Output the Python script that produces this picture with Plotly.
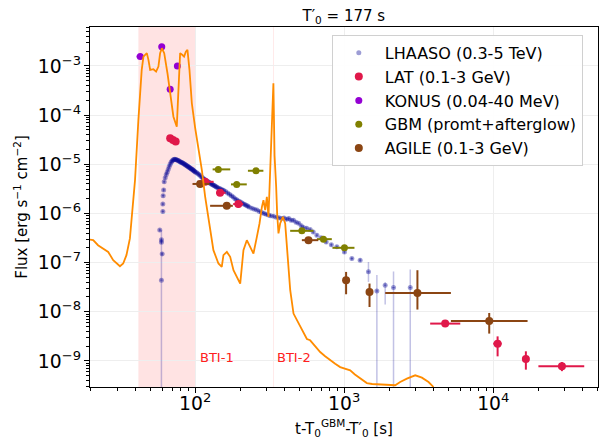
import plotly.graph_objects as go

# ---------------- data ----------------
# LHAASO (0.3-5 TeV)
lh_t = [57.9, 59.4, 59.4, 60.1, 60.7, 60.7, 61.0, 61.5, 62, 63, 64, 65, 66, 67, 68, 69, 70, 71, 72, 73,
        74, 75, 76, 77, 78, 79, 80, 81, 82, 83, 84, 85, 86, 87, 88, 89, 90, 91, 92, 93,
        94, 95, 96, 97, 98, 99, 100, 102, 104, 106, 108, 110, 112, 114, 116, 118, 120, 122, 124, 126,
        128, 130, 132, 134, 136, 138, 140, 143, 146, 149, 152, 155, 160, 165, 170, 175, 180, 185, 190, 195,
        200, 205, 210, 215, 220, 225, 230, 240, 250, 260, 270, 280, 290, 300, 310, 320, 335, 350, 365, 380,
        395, 410, 425, 440, 457, 475, 495, 515, 533, 560, 591, 620, 656, 700, 757, 820, 893, 1004, 1126, 1280]
lh_f = [4.6e-7, 2.9e-7, 2.6e-7, 1.5e-7, 1.1e-6, 1.55e-6, 2.3e-6, 3.0e-6, 4.4e-6, 5.3e-6, 6.2e-6, 7.0e-6, 7.9e-6, 9.0e-6, 1.0e-5, 1.1e-5, 1.17e-5, 1.22e-5, 1.25e-5, 1.26e-5,
        1.25e-5, 1.23e-5, 1.21e-5, 1.19e-5, 1.16e-5, 1.13e-5, 1.11e-5, 1.09e-5, 1.07e-5, 1.05e-5, 1.02e-5, 1.0e-5, 9.8e-6, 9.5e-6, 9.3e-6, 9.1e-6, 8.9e-6, 8.7e-6, 8.5e-6, 8.3e-6,
        8.1e-6, 7.9e-6, 7.8e-6, 7.6e-6, 7.4e-6, 7.2e-6, 7.0e-6, 6.8e-6, 6.5e-6, 6.2e-6, 5.9e-6, 5.6e-6, 5.3e-6, 5.1e-6, 4.9e-6, 4.7e-6, 4.5e-6, 4.4e-6, 4.3e-6, 4.1e-6,
        4.0e-6, 3.9e-6, 3.8e-6, 3.7e-6, 3.6e-6, 3.5e-6, 3.4e-6, 3.3e-6, 3.2e-6, 3.1e-6, 3.0e-6, 2.95e-6, 2.8e-6, 2.6e-6, 2.45e-6, 2.3e-6, 2.15e-6, 2.0e-6, 1.9e-6, 1.8e-6,
        1.72e-6, 1.65e-6, 1.58e-6, 1.52e-6, 1.46e-6, 1.41e-6, 1.36e-6, 1.28e-6, 1.22e-6, 1.17e-6, 1.1e-6, 1.05e-6, 1.0e-6, 9.6e-7, 9.3e-7, 9.0e-7, 8.8e-7, 8.4e-7, 8.2e-7, 7.9e-7,
        8.1e-7, 7.6e-7, 7.9e-7, 7.3e-7, 7.3e-7, 6.6e-7, 6.3e-7, 5.6e-7, 5.2e-7, 5.0e-7, 4.7e-7, 4.2e-7, 3.6e-7, 3.2e-7, 2.64e-7, 2.3e-7, 2.09e-7, 1.65e-7, 1.21e-7, 1.12e-7]
# LHAASO points with large error bars (lower bound 1e-12 = unbounded)
lh2_t = [59.4, 1455, 1657, 1884, 2143, 2775]
lh2_f = [4.4e-8, 6.5e-8, 2.65e-8, 3.47e-8, 3.1e-8, 3.1e-8]
lh2_hi = [4.6e-7, 1.03e-7, 5.6e-8, 4.0e-8, 6.6e-8, 7.24e-8]
lh2_lo = [1e-12, 4.05e-8, 1e-12, 1.4e-8, 1e-12, 1e-12]

# LAT (0.1-3 GeV)
lat_t = [68, 71, 74, 116.7, 147, 195, 4760, 10700, 16560, 28900]
lat_f = [3.4e-5, 3.1e-5, 2.9e-5, 4.4e-6, 2.63e-6, 1.55e-6, 5.75e-9, 2.25e-9, 1.09e-9, 7.76e-10]
lat_t_lo = [67, 70, 73, 103, 138, 180, 3775, 10000, 15700, 20100]
lat_t_hi = [69, 72, 75, 133, 160, 210, 6010, 11400, 17400, 40800]
lat_f_lo = [3.2e-5, 2.9e-5, 2.7e-5, 3.9e-6, 2.3e-6, 1.3e-6, 5.2e-9, 1.24e-9, 6.65e-10, 6.2e-10]
lat_f_hi = [3.6e-5, 3.3e-5, 3.1e-5, 5.0e-6, 3.0e-6, 1.8e-6, 6.3e-9, 3.16e-9, 1.57e-9, 9.5e-10]

# KONUS (0.04-40 MeV)
konus_t = [42.8, 59.7, 68, 76]
konus_f = [1.55e-3, 2.47e-3, 3.35e-4, 1.0e-3]
konus_t_lo = [40.5, 57, 66, 74]
konus_t_hi = [45, 62.5, 70, 78]
konus_f_lo = [1.42e-3, 2.27e-3, 3.08e-4, 0.92e-3]
konus_f_hi = [1.68e-3, 2.67e-3, 3.62e-4, 1.08e-3]

# GBM (promt+afterglow)
gbm_t = [143, 190, 256, 520, 726, 1004]
gbm_f = [7.87e-6, 3.9e-6, 7.38e-6, 4.43e-7, 3.0e-7, 2.0e-7]
gbm_t_lo = [131, 174, 226, 434, 656, 834]
gbm_t_hi = [172, 222, 287, 622, 826, 1172]
gbm_f_lo = [7.5e-6, 3.7e-6, 7.0e-6, 4.2e-7, 2.85e-7, 1.9e-7]
gbm_f_hi = [8.3e-6, 4.1e-6, 7.8e-6, 4.65e-7, 3.15e-7, 2.1e-7]

# AGILE (0.1-3 GeV)
agile_t = [108, 163, 576, 1030, 1479, 3100, 9400]
agile_f = [3.98e-6, 1.43e-6, 2.86e-7, 4.38e-8, 2.53e-8, 2.42e-8, 6.5e-9]
agile_t_lo = [96, 126, 520, 990, 1440, 1885, 5200]
agile_t_hi = [125, 179, 670, 1070, 1520, 5200, 17000]
agile_f_lo = [3.7e-6, 1.33e-6, 2.65e-7, 2.27e-8, 1.25e-8, 1.11e-8, 3.6e-9]
agile_f_hi = [4.3e-6, 1.55e-6, 3.1e-7, 6.47e-8, 3.75e-8, 7.0e-8, 9.46e-9]

# GBM light curve (orange)
lc_t = [19.7, 20.7, 22.3, 24.1, 26.1, 28.2, 31.3, 32.9, 34.6, 36.5, 37.9, 39.5, 41.6, 43.8, 45.0, 47.4,
        48.6, 49.9, 52.5, 54.7, 56.7, 58.2, 59.8, 62.0, 65.2, 68.0, 71.5, 75.3, 77.2, 79.3, 82.2, 84.3,
        86.6, 88.8, 91.6, 95.0, 100, 105, 111, 116.7, 122.8, 132.6, 143.3, 150.9, 154.8, 163.2, 171.8, 180.8,
        200.6, 210.9, 222.2, 233.9, 246.2, 259.5, 270.3, 280.5, 287.3, 295, 302.8, 310.5, 318.5, 327.1, 335, 341,
        344.5, 349.6, 355, 362.4, 371.9, 387.9, 401.9, 412.3, 434.4, 457.1, 506.8, 562, 591, 640, 690, 745,
        805, 870, 940, 1020, 1097, 1180, 1280, 1419, 1540, 1657, 1800, 1934, 2060, 2200, 2375, 2634,
        2997, 3322, 3680, 3937, 4100]
lc_f = [2.95e-7, 2.86e-7, 2.26e-7, 1.94e-7, 1.65e-7, 1.12e-7, 8.45e-8, 9.6e-8, 1.42e-7, 3.1e-7, 1.0e-6, 4.76e-6, 7.94e-5, 8.3e-4, 1.55e-3, 1.82e-3,
        1.33e-3, 8.3e-4, 8.57e-4, 7.66e-4, 9.7e-4, 1.82e-3, 2.29e-3, 1.82e-3, 7.1e-4, 2.78e-4, 9.27e-5, 5.8e-5, 3.79e-4, 1.82e-3, 1.67e-3, 1.55e-3,
        1.95e-3, 2.12e-3, 8.3e-4, 1.74e-4, 5.5e-5, 2.2e-5, 7.5e-6, 2.2e-6, 8.0e-7, 1.79e-7, 9.6e-8, 8.17e-8, 1.42e-7, 1.65e-7, 1.31e-7, 7.0e-8,
        3.75e-8, 1.79e-7, 2.86e-7, 2.09e-7, 1.53e-7, 3.33e-7, 6.25e-7, 1.36e-6, 1.87e-6, 1.17e-6, 2.18e-6, 8.53e-7, 6.5e-6, 3.11e-5, 4.44e-4, 1.5e-5,
        5.6e-6, 3.5e-6, 1.0e-6, 3.92e-7, 6.25e-7, 8.53e-7, 6.25e-7, 2.09e-7, 2.74e-8, 9.2e-9, 4.9e-9, 2.8e-9, 2.63e-9, 2.0e-9, 1.52e-9, 1.25e-9,
        1.03e-9, 8.8e-10, 7.5e-10, 6.9e-10, 6.44e-10, 5.3e-10, 4.36e-10, 3.55e-10, 3.4e-10, 3.34e-10, 3.25e-10, 3.2e-10, 3.15e-10, 3.2e-10, 3.72e-10, 4.36e-10,
        5.1e-10, 4.57e-10, 3.72e-10, 3.04e-10, 2.0e-10]

bti1 = [41.6, 100]
bti2 = [333, 337]


def plus(hi, v):
    return [h - x for h, x in zip(hi, v)]


def minus(lo, v):
    return [x - l for l, x in zip(lo, v)]


FONT = "DejaVu Sans"
fig = go.Figure()

lh_col = "rgba(10,10,150,0.4)"
fig.add_trace(go.Scatter(
    x=lh_t, y=lh_f, mode="markers", name="LHAASO (0.3-5 TeV)", legendgroup="a",
    marker=dict(color=lh_col, size=5),
    error_y=dict(type="percent", value=8, color=lh_col, thickness=1.2, width=0),
    error_x=dict(type="percent", value=2, color=lh_col, thickness=1.2, width=0)))
fig.add_trace(go.Scatter(
    x=lh2_t, y=lh2_f, mode="markers", showlegend=False, legendgroup="a",
    marker=dict(color=lh_col, size=5),
    error_y=dict(type="data", symmetric=False, array=plus(lh2_hi, lh2_f),
                 arrayminus=minus(lh2_lo, lh2_f), color="rgba(10,10,150,0.25)", thickness=1.5, width=0),
    error_x=dict(type="percent", value=2, color=lh_col, thickness=1.2, width=0)))


def pts(name, t, f, tlo, thi, flo, fhi, color, size, grp):
    fig.add_trace(go.Scatter(
        x=t, y=f, mode="markers", name=name, legendgroup=grp,
        marker=dict(color=color, size=size),
        error_y=dict(type="data", symmetric=False, array=plus(fhi, f), arrayminus=minus(flo, f),
                     color=color, thickness=2, width=0),
        error_x=dict(type="data", symmetric=False, array=plus(thi, t), arrayminus=minus(tlo, t),
                     color=color, thickness=2, width=0)))


pts("LAT (0.1-3 GeV)", lat_t, lat_f, lat_t_lo, lat_t_hi, lat_f_lo, lat_f_hi, "#e0184a", 8, "b")
pts("KONUS (0.04-40 MeV)", konus_t, konus_f, konus_t_lo, konus_t_hi, konus_f_lo, konus_f_hi, "#9400d3", 7, "c")
pts("GBM (promt+afterglow)", gbm_t, gbm_f, gbm_t_lo, gbm_t_hi, gbm_f_lo, gbm_f_hi, "#808000", 7, "d")
pts("AGILE (0.1-3 GeV)", agile_t, agile_f, agile_t_lo, agile_t_hi, agile_f_lo, agile_f_hi, "#8b4513", 8, "e")

fig.add_trace(go.Scatter(x=lc_t, y=lc_f, mode="lines", showlegend=False,
                         line=dict(color="#ff8c00", width=1.8)))

fig.add_shape(type="rect", xref="x", yref="paper", x0=bti1[0], x1=bti1[1], y0=0, y1=1,
              fillcolor="rgba(255,0,0,0.11)", line_width=0, layer="below")
fig.add_shape(type="rect", xref="x", yref="paper", x0=bti2[0], x1=bti2[1], y0=0, y1=1,
              fillcolor="rgba(255,0,0,0.11)", line_width=0, layer="below")

fig.add_annotation(x=2.017, y=-8.92, xref="x", yref="y", text="BTI-1", showarrow=False,
                   xanchor="left", font=dict(family=FONT, size=13, color="#ff2020"))
fig.add_annotation(x=2.539, y=-8.92, xref="x", yref="y", text="BTI-2", showarrow=False,
                   xanchor="left", font=dict(family=FONT, size=13, color="#ff2020"))

axis_common = dict(
    type="log", dtick=1, exponentformat="power", showline=True, mirror=True,
    linecolor="black", linewidth=1, ticks="outside", ticklen=5, tickcolor="black",
    showgrid=True, gridcolor="#eeeeee", gridwidth=1, zeroline=False, automargin=False,
    tickfont=dict(family=FONT, size=15, color="black"),
    minor=dict(ticks="outside", ticklen=3, tickcolor="black", showgrid=False),
)
fig.update_xaxes(**axis_common, range=[1.2945, 4.703], ticklabelstandoff=-5,
                 title=dict(text="t-T<sub>0</sub><sup>GBM</sup>-T′<sub>0</sub> [s]",
                            font=dict(family=FONT, size=15, color="black"), standoff=10))
fig.update_yaxes(**axis_common, range=[-9.53, -2.208],
                 title=dict(text="Flux [erg s<sup>−1</sup> cm<sup>−2</sup>]",
                            font=dict(family=FONT, size=15, color="black"), standoff=6))

fig.update_layout(
    width=599, height=446,
    margin=dict(l=90, r=1, t=27, b=59, autoexpand=False),
    paper_bgcolor="white", plot_bgcolor="white",
    title=dict(text="T′<sub>0</sub> = 177 s", x=0.574, xanchor="center", y=0.965, yanchor="middle",
               font=dict(family=FONT, size=15, color="black")),
    legend=dict(x=0.476, y=0.978, xanchor="left", yanchor="top",
                bgcolor="rgba(255,255,255,0.9)", bordercolor="#d0d0d0", borderwidth=1,
                font=dict(family=FONT, size=16, color="black"),
                tracegroupgap=0, itemwidth=42),
    showlegend=True,
)

fig.write_html("out.html", post_script="document.body.style.margin='0px';",
               config={"displayModeBar": False})
